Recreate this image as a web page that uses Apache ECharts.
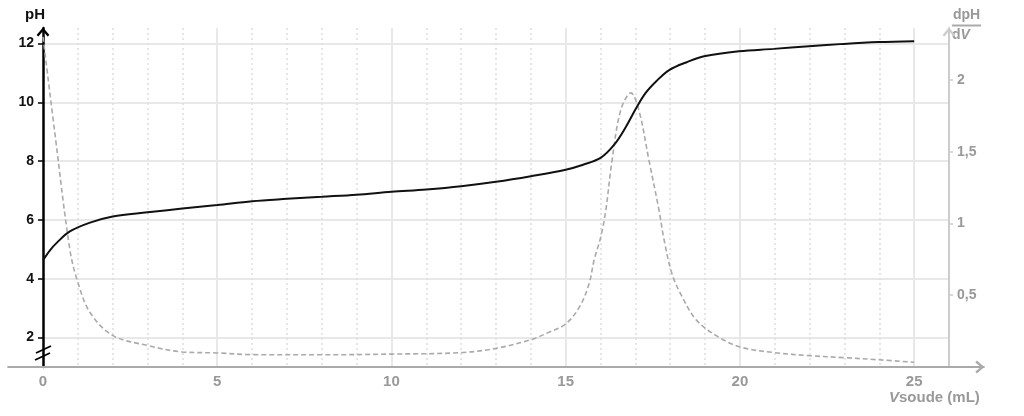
<!DOCTYPE html>
<html>
<head>
<meta charset="utf-8">
<script src="https://cdn.jsdelivr.net/npm/echarts@6.0.0/dist/echarts.min.js"></script>
<style>
  html, body { margin: 0; padding: 0; background: #fff; }
  #chart { width: 1024px; height: 416px; }
</style>
</head>
<body>
<div id="chart"></div>
<script>
// pH curve (V soude in mL -> pH)
const volPH = [0, 0.2, 0.4, 0.77, 1.35, 2, 3, 4, 5, 6, 7, 8, 9, 10, 11, 12, 13, 14, 15, 15.5, 16, 16.4, 16.73, 17.02, 17.3, 17.6, 17.97, 18.5, 18.97, 19.97, 20.97, 21.98, 22.98, 23.98, 25]
const pH = [4.63, 4.97, 5.23, 5.61, 5.91, 6.12, 6.26, 6.39, 6.51, 6.64, 6.72, 6.79, 6.86, 6.96, 7.04, 7.15, 7.30, 7.49, 7.71, 7.88, 8.11, 8.57, 9.17, 9.8, 10.33, 10.72, 11.1, 11.38, 11.57, 11.74, 11.82, 11.91, 11.99, 12.05, 12.08]

// derivative dpH/dV
const volD = [0, 0.34, 0.77, 1.0, 1.35, 2, 3, 4, 5, 6, 8, 10, 12, 13, 14, 14.5, 15, 15.4, 15.67, 15.82, 16, 16.15, 16.33, 16.58, 16.87, 17.1, 17.39, 17.68, 17.82, 18.05, 18.34, 18.74, 19.31, 20, 21, 22, 23, 24, 25]
const dpH = [2.3, 1.63, 0.82, 0.59, 0.38, 0.22, 0.15, 0.105, 0.098, 0.086, 0.085, 0.09, 0.1, 0.13, 0.19, 0.24, 0.3, 0.42, 0.58, 0.75, 0.9, 1.09, 1.44, 1.79, 1.91, 1.79, 1.44, 1.09, 0.89, 0.65, 0.49, 0.33, 0.22, 0.14, 0.1, 0.079, 0.065, 0.05, 0.033]

// tick labels
const xTicks = [0, 5, 10, 15, 20, 25]
const xMinor = [1, 2, 3, 4, 6, 7, 8, 9, 11, 12, 13, 14, 16, 17, 18, 19, 21, 22, 23, 24]
const phTicks = [2, 4, 6, 8, 10, 12]
const dTicks = [0.5, 1, 1.5, 2]

const FONT = 'Liberation Sans, Arial, sans-serif'
const GREY = '#999'
// open caret used as arrow head at the end of each axis
const chevron = 'path://M0,7 L6,0 L12,7 L10.3,8.4 L6,3.3 L1.7,8.4 Z'

const chart = echarts.init(document.getElementById('chart'))

chart.setOption({
  animation: false,
  grid: [
    {left: 8.15, right: 40.15, top: 28, bottom: 49},
    {left: 43, right: 75, top: 28, bottom: 49},
  ],
  xAxis: [
    { // visible abscissa, runs a little past the plot on both sides
      type: 'value', gridIndex: 0, min: -1, max: 27,
      axisLine: {
        lineStyle: {color: '#aaa', width: 2},
        symbol: ['none', chevron], symbolSize: [13, 9], symbolOffset: [0, -4],
      },
      axisTick: {show: false, customValues: xTicks},
      axisLabel: {customValues: xTicks, color: GREY, fontWeight: 'bold', fontSize: 15, fontFamily: FONT, margin: 7},
      splitLine: {show: false},
      name: '{i|V}soude (mL)',
      nameLocation: 'end', nameGap: -4,
      nameTextStyle: {
        color: GREY, fontWeight: 'bold', fontSize: 15, fontFamily: FONT,
        align: 'right', verticalAlign: 'top', padding: [23, 0, 0, 0],
        rich: {i: {fontStyle: 'italic', color: GREY, fontWeight: 'bold', fontSize: 15, fontFamily: FONT}},
      },
    },
    { // major vertical grid
      type: 'value', gridIndex: 1, min: 0, max: 26,
      axisLine: {show: false}, axisLabel: {show: false},
      axisTick: {show: false, customValues: [5, 10, 15, 20, 25]},
      splitLine: {show: true, lineStyle: {color: '#e8e8e8', width: 2}},
    },
    { // minor dotted grid
      type: 'value', gridIndex: 1, min: 0, max: 26,
      axisLine: {show: false}, axisLabel: {show: false},
      axisTick: {show: false, customValues: xMinor},
      splitLine: {show: true, lineStyle: {color: '#ddd', width: 1.5, type: [2, 3]}},
    },
  ],
  yAxis: [
    {type: 'value', gridIndex: 0, min: 0, max: 1, show: false},
    {
      type: 'value', gridIndex: 1, position: 'left', min: 1, max: 12.53,
      axisLine: {
        show: true, onZero: false, lineStyle: {color: '#000', width: 2.5},
        symbol: ['none', chevron], symbolSize: [13, 9], symbolOffset: [0, -4],
      },
      axisTick: {show: true, customValues: phTicks, length: 5, lineStyle: {color: '#000', width: 1.5}},
      axisLabel: {customValues: phTicks, color: '#111', fontWeight: 'bold', fontSize: 14, fontFamily: FONT, margin: 9},
      splitLine: {show: true, lineStyle: {color: '#e8e8e8', width: 2}},
      name: 'pH', nameLocation: 'end', nameGap: 6,
      nameTextStyle: {color: '#111', fontWeight: 'bold', fontSize: 15, fontFamily: FONT, padding: [0, 16, 0, 0]},
    },
    {
      type: 'value', gridIndex: 1, position: 'right', min: 0, max: 2.362,
      axisLine: {
        show: true, onZero: false, lineStyle: {color: '#ccc', width: 2},
        symbol: ['none', chevron], symbolSize: [13, 9], symbolOffset: [0, -4],
      },
      axisTick: {show: true, customValues: dTicks, length: 4, lineStyle: {color: '#ccc', width: 1.5}},
      axisLabel: {
        customValues: dTicks, color: GREY, fontWeight: 'bold', fontSize: 14, fontFamily: FONT, margin: 8,
        formatter: v => String(v).replace('.', ','),
      },
      splitLine: {show: false},
      name: '{n|dpH}\n{l|\u00a0}\n{d|d}{v|V}',
      nameLocation: 'end', nameGap: -15,
      nameTextStyle: {
        align: 'left', padding: [0, 0, 0, 3],
        rich: {
          n: {color: GREY, fontWeight: 'bold', fontSize: 14, fontFamily: FONT, align: 'center', lineHeight: 15},
          l: {backgroundColor: '#aaa', width: 29, height: 2, lineHeight: 5, fontSize: 2, align: 'center'},
          d: {color: GREY, fontWeight: 'bold', fontSize: 14, fontFamily: FONT, lineHeight: 15},
          v: {color: GREY, fontWeight: 'bold', fontStyle: 'italic', fontSize: 14, fontFamily: FONT, lineHeight: 15},
        },
      },
    },
  ],
  graphic: [
    // axis break marks on the pH axis
    {type: 'line', shape: {x1: 36, y1: 353, x2: 51, y2: 346}, style: {stroke: '#000', lineWidth: 1.8}, z: 100},
    {type: 'line', shape: {x1: 35, y1: 360, x2: 50, y2: 353}, style: {stroke: '#000', lineWidth: 1.8}, z: 100},
  ],
  series: [
    {
      name: 'dpH/dV', type: 'line', xAxisIndex: 1, yAxisIndex: 2,
      data: volD.map((v, i) => [v, dpH[i]]),
      smooth: 0.35, showSymbol: false,
      lineStyle: {color: '#aaa', width: 1.6, type: [5, 3]},
      z: 3,
    },
    {
      name: 'pH', type: 'line', xAxisIndex: 1, yAxisIndex: 1,
      data: volPH.map((v, i) => [v, pH[i]]),
      smooth: 0.35, showSymbol: false,
      lineStyle: {color: '#111', width: 2},
      z: 4,
    },
  ],
})
</script>
</body>
</html>
